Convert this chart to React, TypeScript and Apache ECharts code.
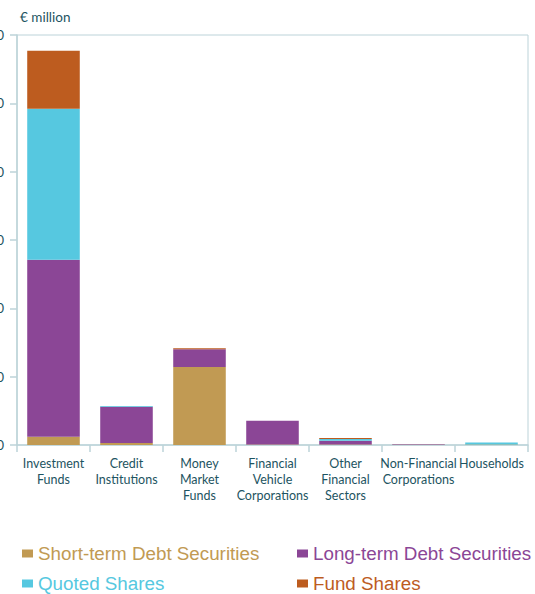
import React, { useEffect, useRef } from "react";
import * as echarts from "echarts";

const categories = [
  "Investment\nFunds",
  "Credit\nInstitutions",
  "Money\nMarket\nFunds",
  "Financial\nVehicle\nCorporations",
  "Other\nFinancial\nSectors",
  "Non-Financial\nCorporations",
  "Households",
];
const shortTermDebt = [12, 3, 114, 0.6, 0.6, 0.2, 0.6];
const longTermDebt = [259, 53, 26, 35, 5.5, 1, 0];
const quotedShares = [221, 1.2, 0, 0, 2.5, 0, 3.2];
const fundShares = [85, 0, 1.5, 0, 1.5, 0, 0];
const yTicks = { min: 0, max: 600, interval: 100 };

const seriesNames = [
  "Short-term Debt Securities",
  "Long-term Debt Securities",
  "Quoted Shares",
  "Fund Shares",
];
const colors = ["#c19a53", "#8b4696", "#56c8e0", "#bd5c1f"];
const seriesData = [shortTermDebt, longTermDebt, quotedShares, fundShares];

export default function App() {
  const ref = useRef<HTMLDivElement>(null);
  useEffect(() => {
    if (!ref.current) return;
    const chart = echarts.init(ref.current, null, { renderer: "svg" });
    const axisColor = "#bcd3d9";
    const textColor = "#1d5461";
    const legendPos = [
      { left: 17, top: 539 },
      { left: 292, top: 539 },
      { left: 17, top: 569 },
      { left: 292, top: 569 },
    ];
    chart.setOption({
      animation: false,
      grid: {
        left: 17,
        right: 7,
        top: 35,
        bottom: 149,
        containLabel: false,
        outerBoundsMode: "none",
        show: true,
        borderColor: axisColor,
        borderWidth: 1,
      },
      graphic: [
        {
          type: "text",
          left: 20,
          top: 10,
          style: {
            text: "€ million",
            fill: textColor,
            font: "13.5px Lato, 'Open Sans', sans-serif",
          },
        },
      ],
      legend: seriesNames.map((n, i) => ({
        data: [{ name: n, textStyle: { color: colors[i] } }],
        left: legendPos[i].left,
        top: legendPos[i].top,
        itemWidth: 11,
        itemHeight: 8,
        itemGap: 10,
        icon: "rect",
        selectedMode: false,
        textStyle: {
          fontSize: 18.8,
          fontFamily: "'Liberation Sans', Arial, sans-serif",
          color: colors[i],
          padding: [0, 0, 0, 0],
        },
      })),
      xAxis: {
        type: "category",
        data: categories,
        axisLine: { lineStyle: { color: axisColor, width: 1.5 } },
        axisTick: { show: true, length: 7, lineStyle: { color: axisColor, width: 1.5 } },
        axisLabel: {
          interval: 0,
          color: textColor,
          fontSize: 12.5,
          lineHeight: 16,
          margin: 10,
          fontFamily: "Lato, 'Open Sans', sans-serif",
        },
      },
      yAxis: {
        type: "value",
        min: yTicks.min,
        max: yTicks.max,
        interval: yTicks.interval,
        splitLine: { show: false },
        axisLine: { show: true, lineStyle: { color: axisColor, width: 1.5 } },
        axisTick: { show: true, length: 7, lineStyle: { color: axisColor, width: 1.5 } },
        axisLabel: {
          color: textColor,
          fontSize: 13,
          margin: 13,
          fontFamily: "Lato, 'Open Sans', sans-serif",
        },
      },
      series: seriesNames.map((n, i) => ({
        name: n,
        type: "bar",
        stack: "total",
        barWidth: "72%",
        data: seriesData[i],
        itemStyle: { color: colors[i] },
      })),
    });
    return () => chart.dispose();
  }, []);
  return <div ref={ref} style={{ width: 535, height: 594, position: "absolute", left: 0, top: 0 }} />;
}
